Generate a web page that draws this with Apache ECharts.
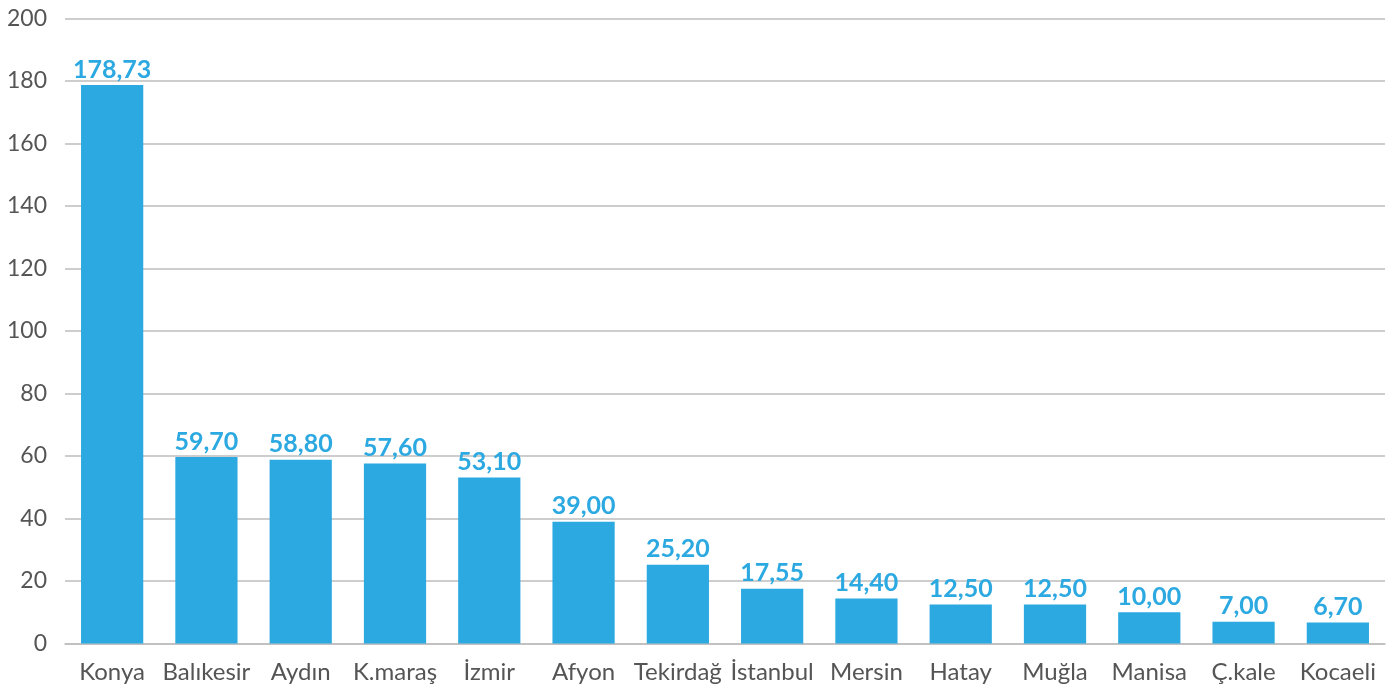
<!DOCTYPE html>
<html><head><meta charset="utf-8">
<script src="https://cdn.jsdelivr.net/npm/echarts@6/dist/echarts.min.js"></script>
<style>html,body{margin:0;padding:0;background:#fff}#c{width:1397px;height:691px}</style>
</head><body><div id="c"></div>
<script>
const categories = ["Konya","Balıkesir","Aydın","K.maraş","İzmir","Afyon","Tekirdağ","İstanbul","Mersin","Hatay","Muğla","Manisa","Ç.kale","Kocaeli"];
const values = [178.73,59.70,58.80,57.60,53.10,39.00,25.20,17.55,14.40,12.50,12.50,10.00,7.00,6.70];
const yTicks = [0,20,40,60,80,100,120,140,160,180,200];

const chart = echarts.init(document.getElementById('c'));
chart.setOption({
  animation:false,
  grid:{left:65,right:12,top:18.5,bottom:47.5,containLabel:false},
  xAxis:{type:'category',data:categories,
    axisLine:{lineStyle:{color:'#bdbdbd',width:1.5}},axisTick:{show:false},
    axisLabel:{color:'#555',fontFamily:'Lato',fontSize:24,margin:17,interval:0}},
  yAxis:{type:'value',min:yTicks[0],max:yTicks[yTicks.length-1],interval:20,
    axisLine:{show:false},axisTick:{show:false},
    splitLine:{lineStyle:{color:'#bdbdbd',width:1.5}},
    axisLabel:{color:'#555',fontFamily:'Lato',fontSize:23,margin:18}},
  series:[{type:'bar',data:values,barWidth:'66%',
    itemStyle:{color:'#2CA9E1'},
    label:{show:true,position:'top',distance:3,color:'#2CA9E1',fontFamily:'Lato',fontWeight:'bold',fontSize:25,
      formatter:p=>p.value.toFixed(2).replace('.',',')}}]
});
</script></body></html>
